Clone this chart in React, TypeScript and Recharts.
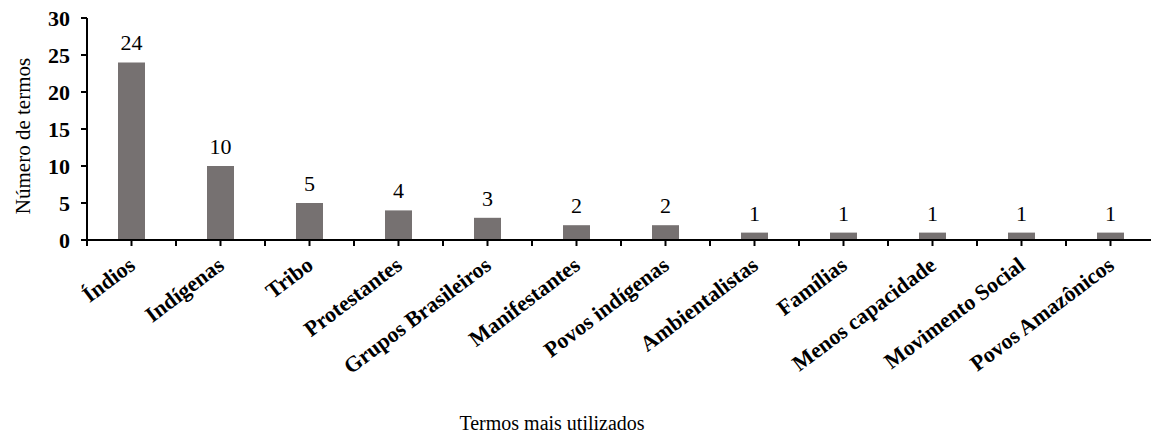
import React from 'react';
import { BarChart, Bar, XAxis, YAxis, LabelList } from 'recharts';

const categories = [
  'Índios', 'Indígenas', 'Tribo', 'Protestantes', 'Grupos Brasileiros', 'Manifestantes',
  'Povos indígenas', 'Ambientalistas', 'Famílias', 'Menos capacidade', 'Movimento Social', 'Povos Amazônicos',
];
const counts = [24, 10, 5, 4, 3, 2, 2, 1, 1, 1, 1, 1];
const yTicks = [0, 5, 10, 15, 20, 25, 30];

const data = categories.map((name, i) => ({ name, value: counts[i] }));

const FONT = '"Liberation Serif", "Times New Roman", serif';
const TICK_SIZE = 6;
const TICK_MARGIN = 16;
const BAND = 89;

const XTick = (props: any) => {
  const { x, y, payload } = props;
  const axisY = y - TICK_SIZE - TICK_MARGIN;
  const c = payload.coordinate;
  const tx = x + 5;
  const ty = y + 6;
  return (
    <g>
      <line x1={c} x2={c} y1={axisY} y2={axisY + TICK_SIZE} stroke="#000" strokeWidth={2} />
      <line x1={c - BAND / 2} x2={c - BAND / 2} y1={axisY} y2={axisY + TICK_SIZE} stroke="#000" strokeWidth={2} />
      <text
        x={tx}
        y={ty}
        transform={`rotate(-37, ${tx}, ${ty})`}
        textAnchor="end"
        fontFamily={FONT}
        fontWeight="bold"
        fontSize={22}
        fill="#000"
      >
        {payload.value}
      </text>
    </g>
  );
};

export default function App() {
  return (
    <div style={{ position: 'fixed', left: 0, top: 0, width: 1151, height: 436, overflow: 'hidden', background: '#fff' }}>
      <BarChart
        width={1200}
        height={436}
        data={data}
        margin={{ top: 18, right: 45, bottom: 0, left: 0 }}
        barSize={27}
      >
        <XAxis
          dataKey="name"
          interval={0}
          height={196}
          tickSize={TICK_SIZE}
          tickMargin={TICK_MARGIN}
          tickLine={false}
          tick={<XTick />}
          axisLine={{ stroke: '#000', strokeWidth: 2 }}
          label={{ value: 'Termos mais utilizados', position: 'insideBottom', offset: 6, dx: -69, fontFamily: FONT, fontSize: 20, fill: '#000' }}
        />
        <YAxis
          width={87}
          domain={[0, 30]}
          ticks={yTicks}
          interval={0}
          tickSize={6}
          tickMargin={11}
          axisLine={{ stroke: '#000', strokeWidth: 2 }}
          tickLine={{ stroke: '#000', strokeWidth: 2 }}
          tick={{ fontFamily: FONT, fontWeight: 'bold', fontSize: 22, fill: '#000' }}
          label={{ value: 'Número de termos', angle: -90, position: 'center', dx: -21, dy: 7, fontFamily: FONT, fontSize: 21, fill: '#000' }}
        />
        <Bar dataKey="value" fill="#767171" isAnimationActive={false}>
          <LabelList dataKey="value" position="top" offset={12} fontFamily={FONT} fontSize={22} fill="#000" />
        </Bar>
      </BarChart>
    </div>
  );
}
